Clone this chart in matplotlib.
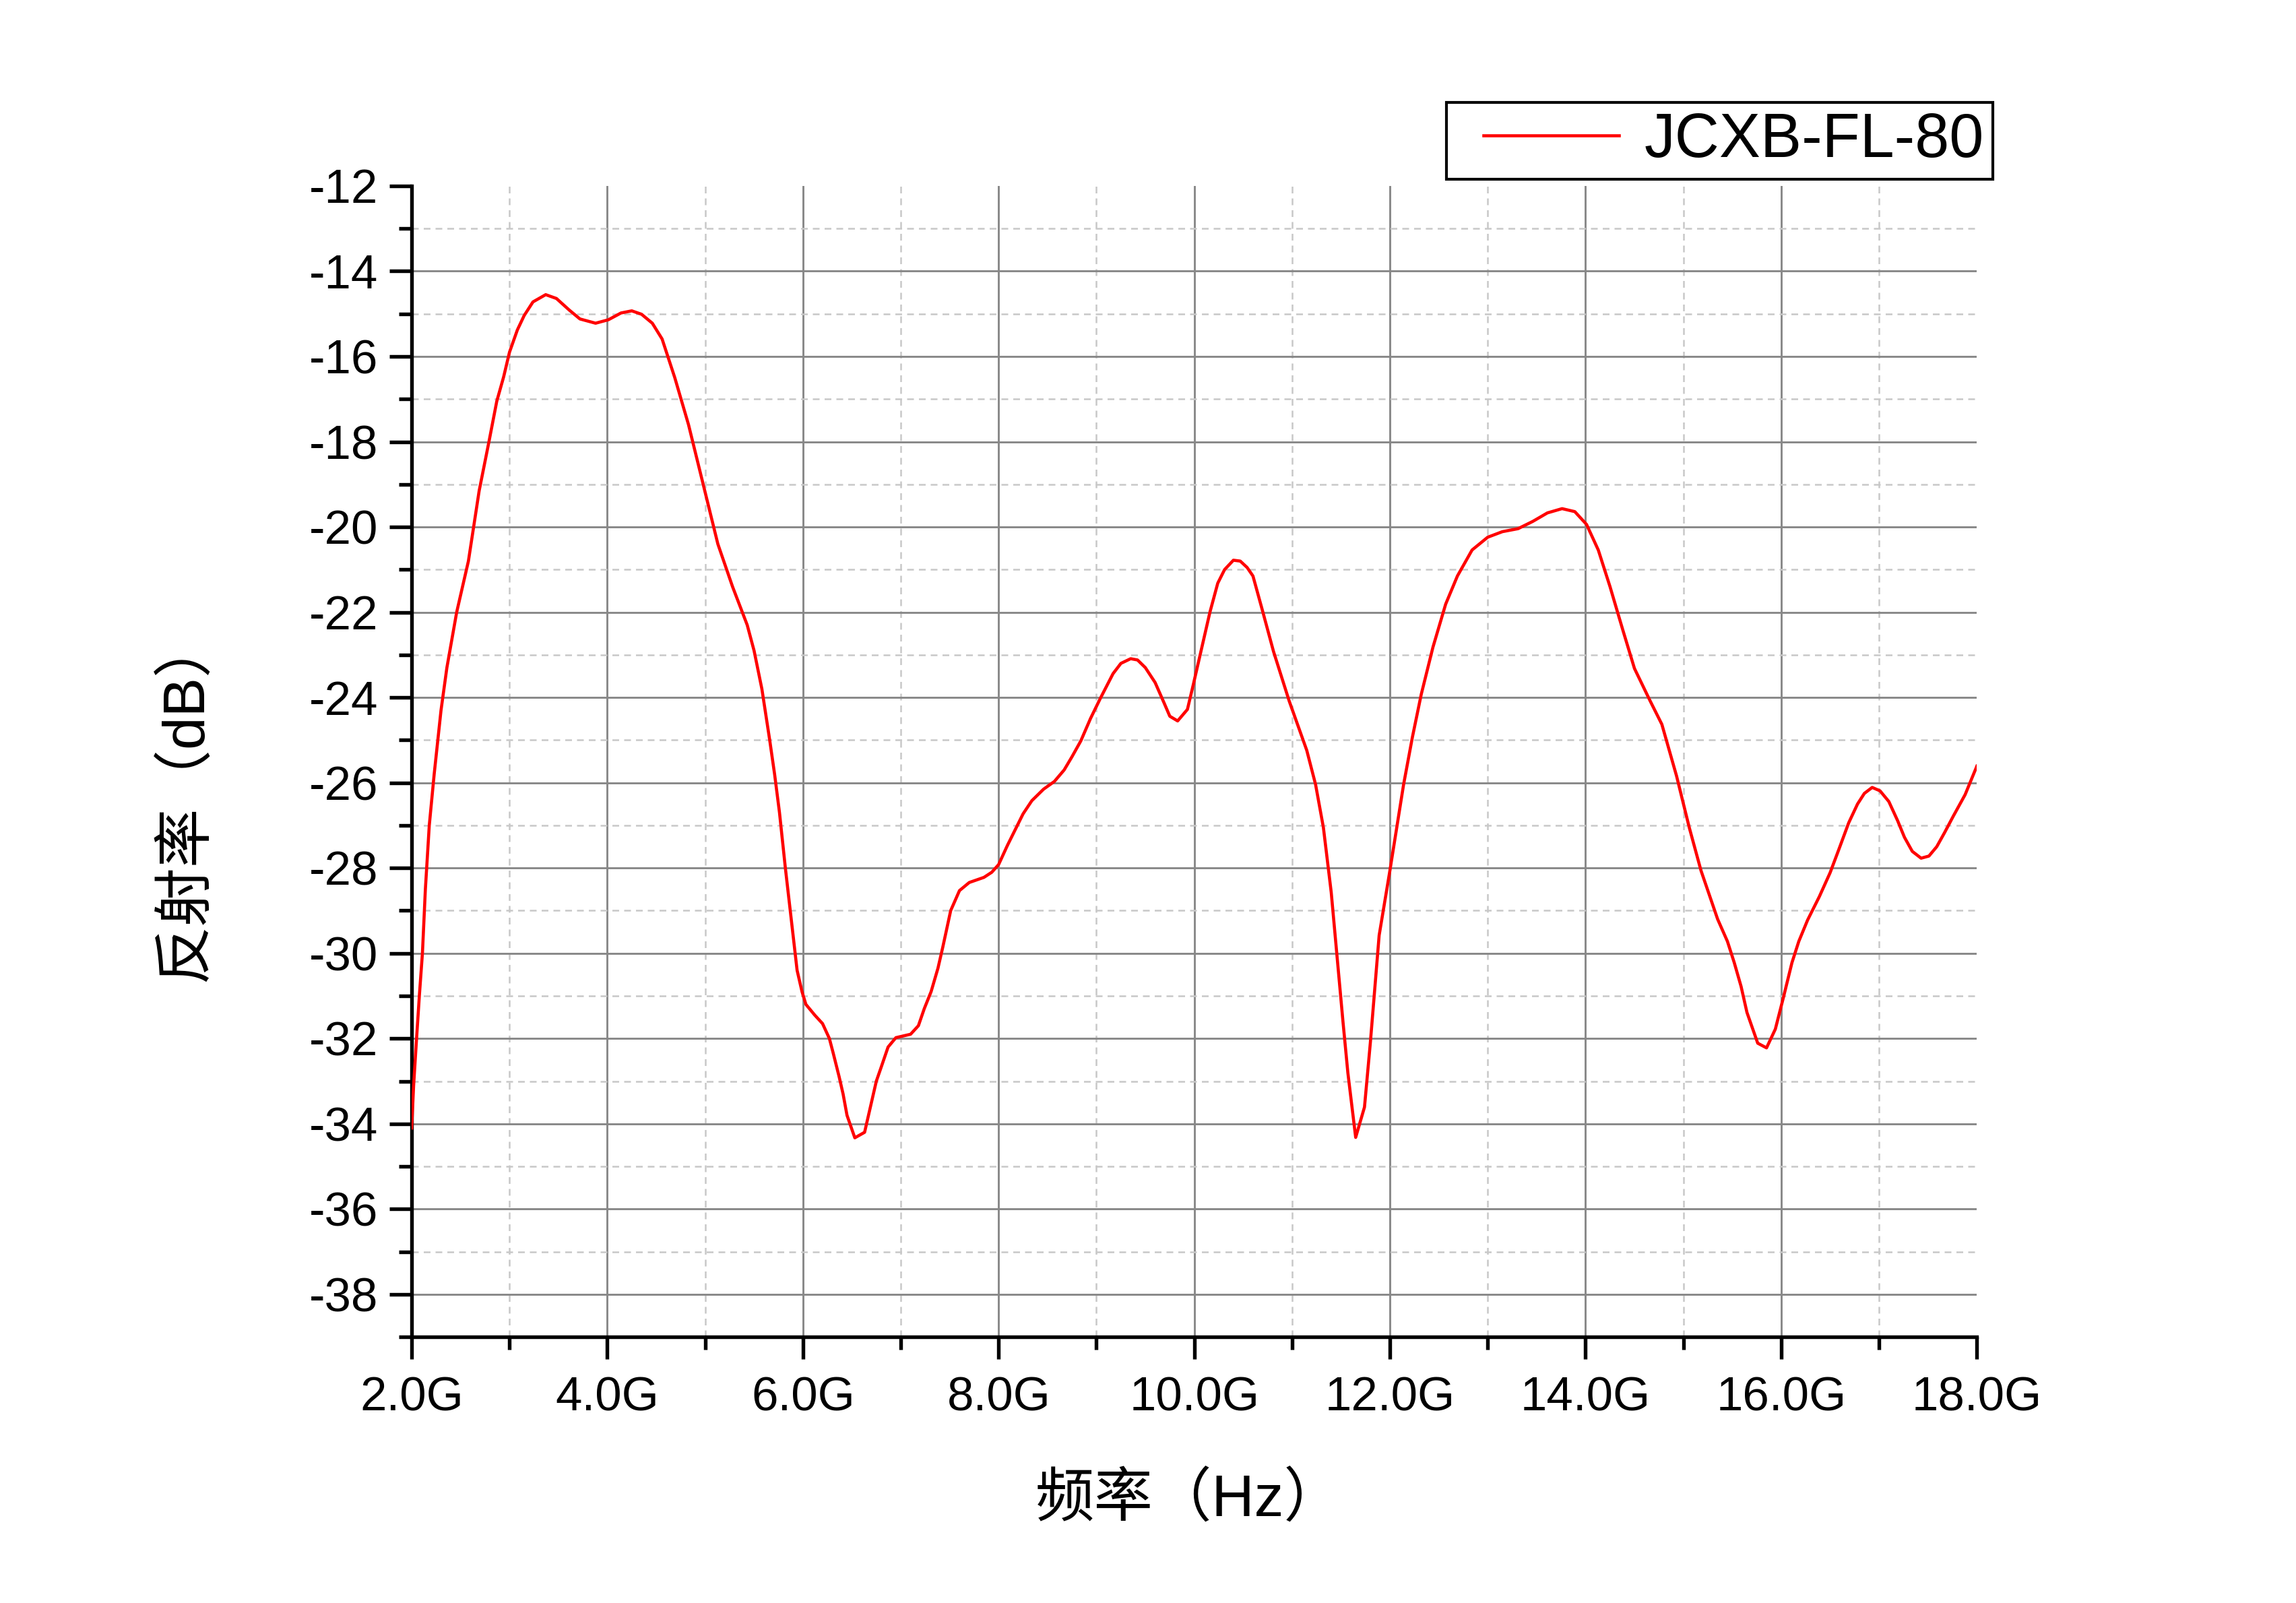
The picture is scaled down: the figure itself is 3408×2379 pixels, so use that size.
import numpy as np
import matplotlib
matplotlib.use("Agg")
import matplotlib.pyplot as plt
from matplotlib.ticker import MultipleLocator, FixedLocator, FixedFormatter
from matplotlib.legend_handler import HandlerLine2D

plt.rcParams['font.family'] = ['Liberation Sans', 'Noto Sans CJK SC', 'DejaVu Sans']
plt.rcParams['axes.unicode_minus'] = False

# frequency (GHz) and reflectivity (dB)
freq = [2.00, 2.02, 2.05, 2.08, 2.11, 2.14, 2.18, 2.23, 2.30, 2.36, 2.46, 2.58, 2.69, 2.79, 2.87,
        2.94, 3.00, 3.08, 3.15, 3.24, 3.37, 3.48, 3.61, 3.72, 3.88, 4.01, 4.14, 4.25, 4.35, 4.46,
        4.56, 4.69, 4.83, 4.98, 5.13, 5.28, 5.43, 5.50, 5.58, 5.66, 5.71, 5.76, 5.82, 5.88, 5.94,
        5.99, 6.03, 6.12, 6.20, 6.27, 6.31, 6.37, 6.41, 6.45, 6.53, 6.63, 6.68, 6.75, 6.80, 6.87,
        6.95, 7.10, 7.18, 7.24, 7.31, 7.38, 7.43, 7.51, 7.60, 7.70, 7.85, 7.93, 8.00, 8.09, 8.25,
        8.34, 8.46, 8.57, 8.67, 8.75, 8.84, 8.94, 9.04, 9.17, 9.25, 9.35, 9.42, 9.50, 9.60, 9.69,
        9.75, 9.83, 9.93, 9.99, 10.08, 10.16, 10.24, 10.31, 10.40, 10.47, 10.54, 10.60, 10.69, 10.81, 10.97,
        11.15, 11.24, 11.32, 11.40, 11.46, 11.52, 11.57, 11.65, 11.74, 11.80, 11.89, 12.00, 12.07, 12.14, 12.23,
        12.32, 12.44, 12.57, 12.69, 12.84, 13.00, 13.15, 13.31, 13.46, 13.61, 13.76, 13.89, 14.01, 14.13, 14.25,
        14.38, 14.50, 14.66, 14.78, 14.93, 15.06, 15.18, 15.35, 15.45, 15.52, 15.59, 15.65, 15.76, 15.85, 15.94,
        16.02, 16.11, 16.18, 16.27, 16.39, 16.50, 16.59, 16.69, 16.78, 16.85, 16.93, 17.01, 17.10, 17.19, 17.26,
        17.34, 17.43, 17.51, 17.59, 17.67, 17.76, 17.88, 18.00]
refl = [-34.1, -33.1, -32.0, -30.95, -30.0, -28.5, -27.0, -25.8, -24.3, -23.3, -22.0, -20.8, -19.15, -18.0, -17.05,
        -16.48, -15.9, -15.38, -15.04, -14.72, -14.55, -14.64, -14.91, -15.12, -15.22, -15.14, -14.98, -14.93, -15.01, -15.22,
        -15.59, -16.5, -17.6, -19.0, -20.4, -21.4, -22.3, -22.9, -23.8, -25.0, -25.8, -26.7, -28.0, -29.2, -30.4,
        -30.9, -31.2, -31.45, -31.65, -32.0, -32.35, -32.9, -33.3, -33.8, -34.33, -34.2, -33.7, -33.0, -32.67, -32.2,
        -31.98, -31.9, -31.7, -31.3, -30.9, -30.35, -29.85, -29.0, -28.53, -28.34, -28.22, -28.1, -27.92, -27.47, -26.73,
        -26.42, -26.15, -25.97, -25.7, -25.39, -25.02, -24.49, -24.02, -23.44, -23.2, -23.09, -23.12, -23.3, -23.65, -24.12,
        -24.44, -24.55, -24.28, -23.7, -22.8, -22.0, -21.32, -21.0, -20.78, -20.8, -20.95, -21.15, -21.9, -22.92, -24.08,
        -25.24, -26.04, -27.05, -28.57, -30.08, -31.6, -32.8, -34.32, -33.61, -32.1, -29.58, -28.06, -27.05, -26.04, -24.93,
        -23.93, -22.82, -21.81, -21.15, -20.54, -20.24, -20.11, -20.04, -19.87, -19.67, -19.57, -19.64, -19.94, -20.54, -21.4,
        -22.41, -23.32, -24.08, -24.63, -25.84, -27.05, -28.06, -29.2, -29.72, -30.22, -30.78, -31.39, -32.11, -32.22, -31.78,
        -31.06, -30.22, -29.72, -29.22, -28.67, -28.11, -27.56, -26.94, -26.5, -26.25, -26.11, -26.19, -26.44, -26.89, -27.28,
        -27.61, -27.77, -27.72, -27.5, -27.17, -26.78, -26.28, -25.61]

xticks = [2, 4, 6, 8, 10, 12, 14, 16, 18]
xticklabels = ['2.0G', '4.0G', '6.0G', '8.0G', '10.0G', '12.0G', '14.0G', '16.0G', '18.0G']
yticks = list(range(-38, -11, 2))
series_name = 'JCXB-FL-80'


# legend line drawn only in the right part of the handle box (leaves a left margin)
class RightLine(HandlerLine2D):
    def create_artists(self, legend, orig_handle, xdescent, ydescent, width, height, fontsize, trans):
        arts = super().create_artists(legend, orig_handle, xdescent, ydescent, width, height, fontsize, trans)
        line = arts[0]
        x = np.asarray(line.get_xdata(), dtype=float)
        line.set_xdata(np.linspace(x[-1] - 2.2 * fontsize, x[-1], len(x)))
        return arts


fig = plt.figure(figsize=(11.36, 7.93), dpi=300)
ax = fig.add_axes([0.1793, 0.166, 0.6817, 0.718])

ax.plot(freq, refl, color='#ff0000', lw=1.1, label=series_name, zorder=3)

ax.set_xlim(2, 18)
ax.set_ylim(-39, -12)
ax.xaxis.set_major_locator(FixedLocator(xticks))
ax.xaxis.set_major_formatter(FixedFormatter(xticklabels))
ax.xaxis.set_minor_locator(MultipleLocator(1))
ax.yaxis.set_major_locator(FixedLocator(yticks))
ax.yaxis.set_minor_locator(MultipleLocator(1))

ax.grid(which='major', color='#888888', lw=0.7, ls='-', zorder=0)
ax.grid(which='minor', color='#c8c8c8', lw=0.6, ls=(0, (4, 3)), zorder=0)
ax.set_axisbelow(True)

for s in ['top', 'right']:
    ax.spines[s].set_visible(False)
for s in ['left', 'bottom']:
    ax.spines[s].set_linewidth(1.3)

ax.tick_params(which='major', direction='out', length=8, width=1.3, labelsize=17, pad=6)
ax.tick_params(which='minor', direction='out', length=4.5, width=1.3)
ax.tick_params(axis='y', which='major', pad=4)

# no grid line along the far edges (x=18, y=-12)
fig.canvas.draw()
for t in ax.xaxis.get_major_ticks():
    if abs(t.get_loc() - 18) < 1e-6:
        t.gridline.set_visible(False)
for t in ax.yaxis.get_major_ticks():
    if abs(t.get_loc() + 12) < 1e-6:
        t.gridline.set_visible(False)

ax.set_xlabel('频率（Hz）', fontsize=21)
ax.set_ylabel('反射率（dB）', fontsize=21, va='center')
ax.xaxis.set_label_coords(0.497, -0.118)
ax.yaxis.set_label_coords(-0.144, 0.468)

leg = ax.legend(loc='upper right', bbox_to_anchor=(1.0103, 1.0725), borderaxespad=0,
                fontsize=22, frameon=True, fancybox=False, framealpha=1,
                handlelength=2.65, handletextpad=0.4, borderpad=0.15,
                handler_map={plt.Line2D: RightLine()})
leg.get_frame().set_edgecolor('black')
leg.get_frame().set_linewidth(1.0)

fig.savefig('out.png', dpi=300)
